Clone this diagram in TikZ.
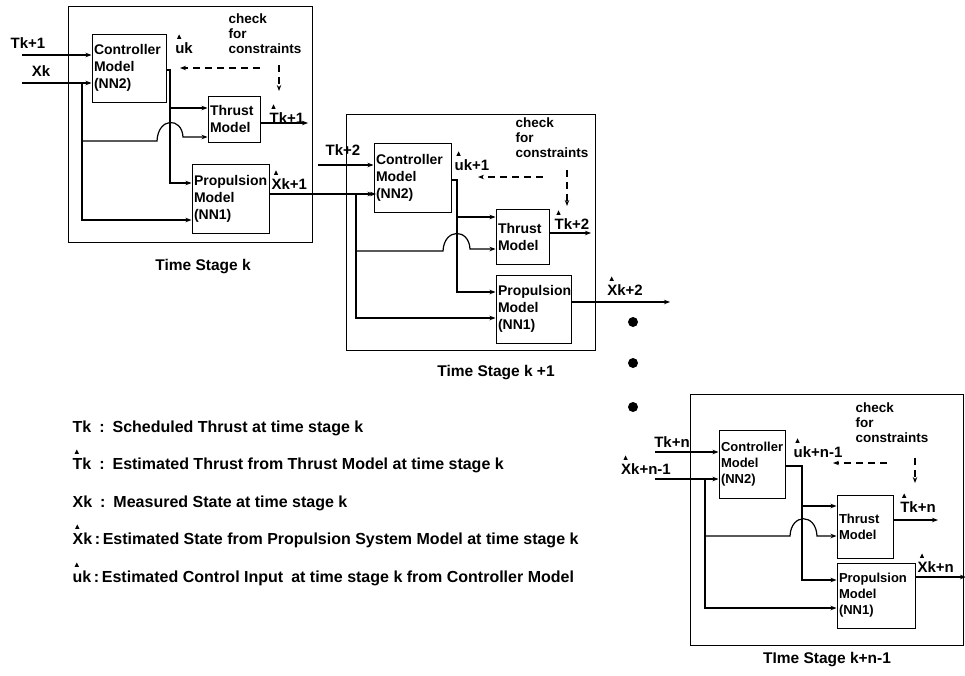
\documentclass[tikz,border=0pt]{standalone}
\usepackage{fontspec}
\setmainfont{Liberation Sans}
\usetikzlibrary{arrows.meta}
\newcommand\BoxFont{\fontsize{14}{17}\selectfont\bfseries}
\newcommand\SmBoxFont{\fontsize{13}{16}\selectfont\bfseries}
\newcommand\LblFont{\fontsize{15}{17}\selectfont\bfseries}
\newcommand\ChkFont{\fontsize{13.5}{15}\selectfont\bfseries}
\newcommand\StgFont{\fontsize{15.5}{18}\selectfont\bfseries}
\newcommand\LegFont{\fontsize{16}{18}\selectfont\bfseries}
% small filled hat above the first letter of a label node
\newcommand\hatmark[2]{\fill ([xshift=#2pt,yshift=3pt]#1.north west) -- ++(-2.2pt,0pt) -- ++(2.2pt,4.5pt) -- ++(2.2pt,-4.5pt) -- cycle;}
\begin{document}
\begin{tikzpicture}[x=1pt,y=-1pt,
  line width=1.2pt,
  arr/.style={-{Stealth[length=6pt,width=4.5pt]}},
  dsh/.style={dash pattern=on 7pt off 5pt, -{Stealth[length=6pt,width=4.5pt]}},
  frame/.style={draw, line width=1pt},
  box/.style={draw, line width=1pt, inner xsep=2pt, inner ysep=1pt, align=left, font=\BoxFont},
  sbox/.style={box, font=\SmBoxFont},
  lbl/.style={inner sep=0pt, font=\LblFont},
  chk/.style={inner sep=0pt, align=left, font=\ChkFont, anchor=north west},
  stg/.style={inner sep=0pt, font=\StgFont},
  leg/.style={inner sep=0pt, font=\LegFont, anchor=west},
  dot/.style={circle, fill=black, inner sep=0pt, minimum size=10pt}]
\useasboundingbox (0,0) rectangle (965,675);

% ================= Stage k =================
\draw[frame] (68,6) rectangle (312,242);
\node[box, text width=70pt, minimum height=68pt] (C1) at (129,68) {Controller\\Model\\(NN2)};
\node[box, text width=48pt, minimum height=46pt] (T1) at (234,119) {Thrust\\Model};
\node[box, text width=73pt, minimum height=69pt] (P1) at (230.5,198.5) {Propulsion\\Model\\(NN1)};
\coordinate (Tin1) at (22,55);
\coordinate (Xin1) at (22,83);
\coordinate (J1) at (82,83);
\coordinate (S1) at (170,70);
\draw[arr] (Tin1) -- (Tin1 -| C1.west);
\draw[arr] (Xin1) -- (Xin1 -| C1.west);
\draw[arr] (J1) |- (P1.west |- 0,220);
\draw[arr] (J1 |- 0,141) -- (157,141) .. controls (158,117) and (182,117) .. (183,137) -- (T1.west |- 0,137);
\draw[arr] (C1.east |- S1) -- (S1) |- (P1.west |- 0,183);
\draw[arr] (S1 |- 0,108) -- (T1.west |- 0,108);
\coordinate (DA1) at (260,68);
\coordinate (DB1) at (180,68);
\coordinate (DC1) at (279,65);
\coordinate (DD1) at (279,91);
\draw[dsh] (DA1) -- (DB1);
\draw[dsh] (DC1) -- (DD1);
\coordinate (TO1) at (308,123);
\draw[arr] (T1.east |- TO1) -- (TO1);
\draw[arr] (P1.east |- 0,194) -- (376,194);
\node[lbl] (LTk1) at (28,43) {Tk+1};
\node[lbl] (LXk) at (41,71) {Xk};
\node[lbl] (Lu1) at (184,48) {uk};
\hatmark{Lu1}{4.5}
\node[lbl, anchor=south west] (LT1o) at (269,124) {Tk+1};
\hatmark{LT1o}{4.5}
\node[lbl, anchor=south west] (LX1o) at (271,190) {Xk+1};
\hatmark{LX1o}{5}
\node[chk] (CK1) at (228,13) {check\\for\\constraints};
\node[stg] (ST1) at (203,267) {Time Stage k};

% ================= Stage k+1 =================
\draw[frame] (346,114) rectangle (595,350);
\node[box, text width=73pt, minimum height=69pt] (C2) at (412.5,177.5) {Controller\\Model\\(NN2)};
\node[box, text width=49pt, minimum height=55pt] (T2) at (522.5,236.5) {Thrust\\Model};
\node[box, text width=71pt, minimum height=68pt] (P2) at (533.5,309) {Propulsion\\Model\\(NN1)};
\coordinate (Tin2) at (318,165);
\coordinate (J2) at (356,194);
\coordinate (S2) at (457,180);
\draw[arr] (Tin2) -- (Tin2 -| C2.west);
\draw[arr] (J2) -- (J2 -| C2.west);
\draw[arr] (J2) |- (P2.west |- 0,318);
\draw[arr] (J2 |- 0,251) -- (443,251) .. controls (444,228) and (469,228) .. (470,249) -- (T2.west |- 0,249);
\draw[arr] (C2.east |- S2) -- (S2) |- (P2.west |- 0,292);
\draw[arr] (S2 |- 0,217) -- (T2.west |- 0,217);
\coordinate (DA2) at (543,177);
\coordinate (DB2) at (478,177);
\coordinate (DC2) at (567,170);
\coordinate (DD2) at (567,206);
\draw[dsh] (DA2) -- (DB2);
\draw[dsh] (DC2) -- (DD2);
\coordinate (TO2) at (591,233);
\draw[arr] (T2.east |- TO2) -- (TO2);
\coordinate (XO2) at (670,302);
\draw[arr] (P2.east |- XO2) -- (XO2);
\node[lbl] (LTk2) at (343,150) {Tk+2};
\node[lbl] (Lu2) at (472,165) {uk+1};
\hatmark{Lu2}{4.5}
\node[lbl, anchor=south west] (LT2o) at (554,230) {Tk+2};
\hatmark{LT2o}{4.5}
\node[lbl] (LX2o) at (625,290) {Xk+2};
\hatmark{LX2o}{5}
\node[chk] (CK2) at (515,117) {check\\for\\constraints};
\node[stg] (ST2) at (496,373) {Time Stage k +1};

% ================= dots =================
\node[dot] (D1) at (633,322) {};
\node[dot] (D2) at (633,363) {};
\node[dot] (D3) at (633,407) {};

% ================= Stage k+n-1 =================
\draw[frame] (690,394) rectangle (963,645);
\node[sbox, text width=62pt, minimum height=68pt] (C3) at (752,464) {Controller\\Model\\(NN2)};
\node[sbox, text width=52pt, minimum height=63pt] (T3) at (865,526.5) {Thrust\\Model};
\node[sbox, text width=74pt, minimum height=65pt] (P3) at (876,595.5) {Propulsion\\Model\\(NN1)};
\coordinate (Tin3) at (655,452);
\coordinate (Xin3) at (655,479);
\coordinate (J3) at (705,479);
\coordinate (S3) at (802,466);
\draw[arr] (Tin3) -- (Tin3 -| C3.west);
\draw[arr] (Xin3) -- (Xin3 -| C3.west);
\draw[arr] (J3) |- (P3.west |- 0,608);
\draw[arr] (J3 |- 0,536) -- (790,536) .. controls (791,513) and (816,513) .. (817,536) -- (T3.west |- 0,536);
\draw[arr] (C3.east |- S3) -- (S3) |- (P3.west |- 0,580);
\draw[arr] (S3 |- 0,506) -- (T3.west |- 0,506);
\coordinate (DA3) at (887,463);
\coordinate (DB3) at (833,463);
\coordinate (DC3) at (915,458);
\coordinate (DD3) at (915,483);
\draw[dsh] (DA3) -- (DB3);
\draw[dsh] (DC3) -- (DD3);
\coordinate (TO3) at (938,520);
\draw[arr] (T3.east |- TO3) -- (TO3);
\coordinate (XO3) at (966,577);
\draw[arr] (P3.east |- XO3) -- (XO3);
\node[lbl] (LTk3) at (672,442) {Tk+n};
\node[lbl] (LXk3) at (646,469) {Xk+n-1};
\hatmark{LXk3}{5}
\node[lbl] (Lu3) at (818,452) {uk+n-1};
\hatmark{Lu3}{4.5}
\node[lbl] (LT3o) at (918,507) {Tk+n};
\hatmark{LT3o}{4.5}
\node[lbl, anchor=west] (LX3o) at (917,567) {Xk+n};
\hatmark{LX3o}{5}
\node[chk] (CK3) at (855,402) {check\\for\\constraints};
\node[stg] (ST3) at (827,660) {TIme Stage k+n-1};

% ================= legend =================
\node[leg] (G1) at (72,428) {Tk\enspace:\enspace Scheduled Thrust at time stage k};
\node[leg] (G2) at (72,465) {Tk\enspace:\enspace Estimated Thrust from Thrust Model at time stage k};
\hatmark{G2}{4.8}
\node[leg] (G3) at (72,503) {Xk\enspace:\enspace Measured State at time stage k};
\node[leg] (G4) at (72,540) {Xk\,:\,Estimated State from Propulsion System Model at time stage k};
\hatmark{G4}{5.3}
\node[leg] (G5) at (72,578) {uk\,:\,Estimated Control Input\enspace at time stage k from Controller Model};
\hatmark{G5}{4.8}
\end{tikzpicture}
\end{document}
